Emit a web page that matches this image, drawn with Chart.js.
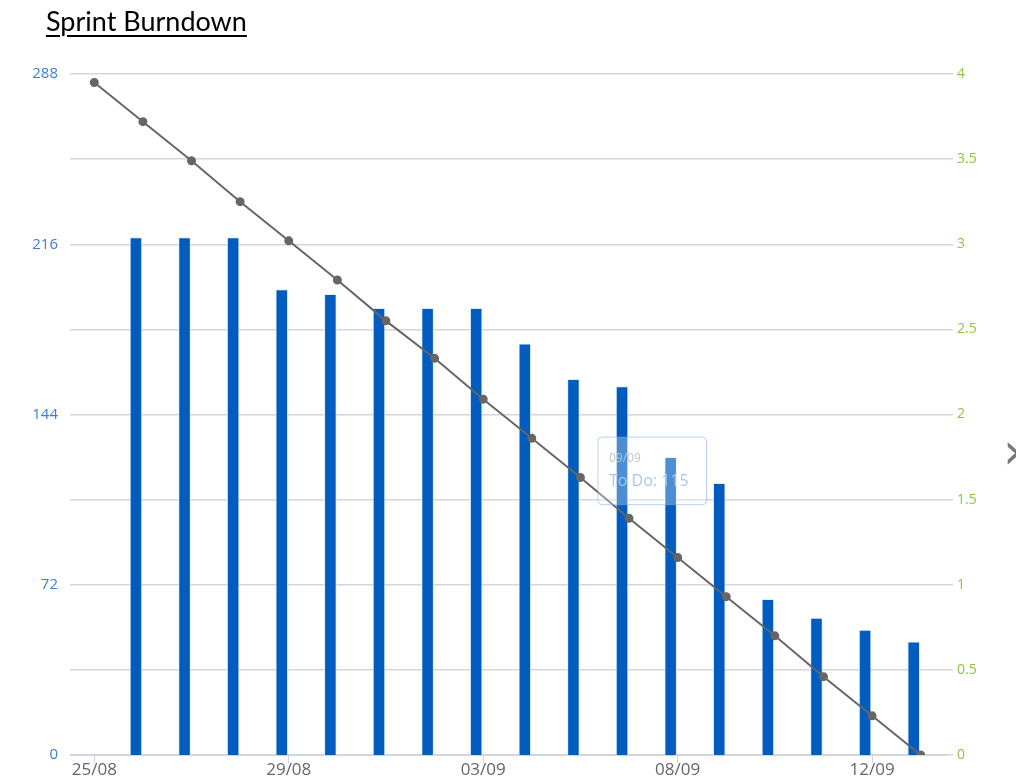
<!DOCTYPE html>
<html>
<head>
<meta charset="utf-8">
<script src="https://cdn.jsdelivr.net/npm/chart.js@4/dist/chart.umd.min.js"></script>
<style>
  html, body { margin: 0; padding: 0; background: #fff; }
  #wrap { position: relative; width: 1016px; height: 779px; overflow: hidden; }
  #title {
    position: absolute; left: 46px; top: 4px;
    font-family: Lato, "Open Sans", sans-serif; font-size: 27px; color: #000;
    text-decoration: underline; text-underline-offset: 4px; text-decoration-thickness: 2px;
  }
  #arrow {
    position: absolute; left: 1003px; top: 422px;
    font-family: "DejaVu Sans", sans-serif; font-size: 50px; color: #777;
  }
  canvas { position: absolute; left: 0; top: 0; }
</style>
</head>
<body>
<div id="wrap">
  <canvas id="burn" width="1016" height="779"></canvas>
  <div id="title">Sprint Burndown</div>
  <div id="arrow">›</div>
</div>
<script>
// ====== Data ======
const days = [
  "25/08","26/08","27/08","28/08","29/08","31/08","01/09","02/09","03/09",
  "04/09","05/09","07/09","08/09","09/09","10/09","11/09","12/09","13/09"
];
// remaining work (left axis), no bar on the first day
const toDo = [null,219,219,219,197,195,189,189,189,174,159,156,126,115,66,58,53,48];
// ideal burndown line (right axis)
const ideal = [3.95,3.72,3.49,3.25,3.02,2.79,2.55,2.33,2.09,1.86,1.63,1.39,1.16,0.93,0.70,0.46,0.23,0];

const leftTicks = [0,72,144,216,288];

const blue = "#005cbf";
const grey = "#666666";

// put the tooltip up and to the left of the hovered bar
Chart.Tooltip.positioners.upLeft = function(items) {
  if (!items.length) return false;
  const el = items[0].element;
  return { x: el.x - 67, y: el.y - 48 };
};

const ctx = document.getElementById('burn').getContext('2d');
const chart = new Chart(ctx, {
  data: {
    labels: days,
    datasets: [
      {
        type: 'line',
        label: 'Ideal',
        data: ideal,
        yAxisID: 'yR',
        borderColor: grey,
        borderWidth: 2,
        pointBackgroundColor: grey,
        pointBorderColor: grey,
        pointRadius: 3.5,
        tension: 0,
        order: 0
      },
      {
        type: 'bar',
        label: 'To Do',
        data: toDo,
        yAxisID: 'yL',
        backgroundColor: blue,
        borderColor: "rgba(220,235,250,0.9)",
        borderWidth: 1,
        categoryPercentage: 0.575,
        barPercentage: 0.9,
        order: 1
      },
      {
        // empty partner slot so the bars sit left of each day
        type: 'bar',
        label: '',
        data: days.map(() => null),
        yAxisID: 'yL',
        categoryPercentage: 0.575,
        barPercentage: 0.9,
        order: 2
      }
    ]
  },
  options: {
    responsive: false,
    animation: false,
    layout: { padding: { top: 74, left: 0, right: 0, bottom: 0 } },
    plugins: {
      legend: { display: false },
      title: { display: false },
      tooltip: {
        position: 'upLeft',
        xAlign: 'center',
        yAlign: 'top',
        caretSize: 0,
        backgroundColor: "rgba(255,255,255,0.3)",
        borderColor: "rgba(124,170,225,0.55)",
        borderWidth: 1,
        cornerRadius: 4,
        padding: { top: 14, bottom: 14, left: 11, right: 18 },
        titleColor: "#c4c4c4",
        titleFont: { family: "'Open Sans', sans-serif", size: 12, weight: 'normal' },
        titleMarginBottom: 6,
        bodyColor: "#a9c6ea",
        bodyFont: { family: "'Open Sans', sans-serif", size: 16 },
        displayColors: false,
        filter: item => item.dataset.label === 'To Do',
        callbacks: {
          label: item => 'To Do: ' + item.raw
        }
      }
    },
    scales: {
      x: {
        offset: true,
        grid: {
          offset: false,
          drawOnChartArea: false,
          drawTicks: true,
          tickLength: 8,
          color: c => (c.index % 4 === 0 ? "#ccd6eb" : "transparent")
        },
        border: { color: "#ccd6eb", width: 1 },
        ticks: {
          autoSkip: false,
          maxRotation: 0,
          color: "#666",
          padding: -3,
          font: { family: "'Open Sans', sans-serif", size: 17 },
          callback: function(v, i) { return i % 4 === 0 ? days[i] : ''; }
        },
        afterFit: s => { s.height = 24; }
      },
      yL: {
        position: 'left',
        min: 0,
        max: 288,
        afterBuildTicks: s => { s.ticks = leftTicks.map(v => ({ value: v })); },
        grid: { display: false },
        border: { display: false },
        ticks: {
          color: "#3d7fd0",
          padding: 4,
          font: { family: "'Open Sans', sans-serif", size: 15 }
        },
        afterFit: s => { s.width = 70; }
      },
      yR: {
        position: 'right',
        min: 0,
        max: 4,
        ticks: {
          stepSize: 0.5,
          color: "#8cc63f",
          padding: 4,
          font: { family: "'Open Sans', sans-serif", size: 14 },
          callback: v => String(v)
        },
        grid: {
          color: "#d6d6d6",
          lineWidth: 1.5,
          drawTicks: true,
          tickLength: 8
        },
        border: { display: false },
        afterFit: s => { s.width = 71; }
      }
    }
  }
});

// show the hover box on 09/09
const hi = days.indexOf("09/09");
chart.tooltip.setActiveElements([{ datasetIndex: 1, index: hi }], { x: 0, y: 0 });
chart.update();
</script>
</body>
</html>
